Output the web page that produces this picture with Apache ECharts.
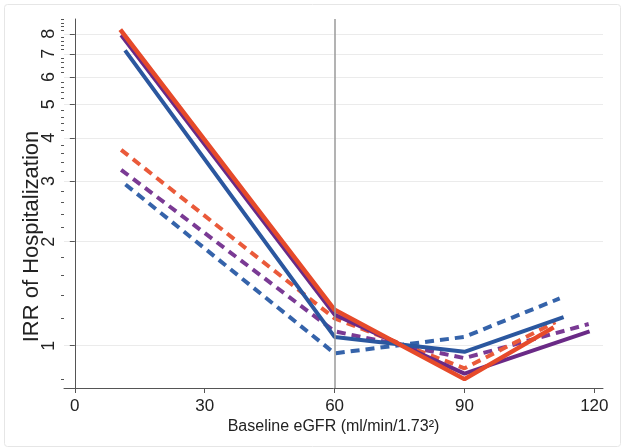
<!DOCTYPE html>
<html><head><meta charset="utf-8">
<script src="https://cdn.jsdelivr.net/npm/echarts@6/dist/echarts.min.js"></script>
<style>html,body{margin:0;padding:0;background:#fff}#c{width:621px;height:447px}</style>
</head><body><div id="c"></div>
<script>
// Tick labels
const xTicks = [0, 30, 60, 90, 120];
const yMajor = [1, 2, 3, 4, 5, 6, 7, 8];
const yMinor = [0.8, 1.2, 1.4, 1.6, 1.8, 2.2, 2.4, 2.6, 2.8, 3.2, 3.4, 3.6, 3.8,
  4.2, 4.4, 4.6, 4.8, 5.2, 5.4, 5.6, 5.8, 6.2, 6.4, 6.6, 6.8, 7.2, 7.4, 7.6, 7.8, 8.2, 8.4, 8.6, 8.8];
const refLineX = 60;

// Series values: [baseline eGFR, IRR]
const orangeSolid  = [[10.5, 8.23], [60, 1.27], [90, 0.80], [110.6, 1.13]];
const purpleSolid  = [[10.7, 7.93], [60, 1.23], [90, 0.83], [118.9, 1.10]];
const blueSolid    = [[11.6, 7.16], [60, 1.06], [90, 0.96], [112.9, 1.21]];
const orangeDashed = [[10.7, 3.69], [60, 1.20], [90, 0.86], [111.0, 1.17]];
const purpleDashed = [[10.7, 3.23], [60, 1.10], [90, 0.92], [118.7, 1.155]];
const blueDashed   = [[11.7, 2.93], [60, 0.95], [90, 1.06], [112.0, 1.37]];

const FONT = 'Liberation Sans, Arial, Helvetica, sans-serif';
const C_ORANGE = '#e64a2a', C_PURPLE = '#6a2a86', C_BLUE = '#2b579f';
const C_ORANGE_D = '#ea5a3a', C_PURPLE_D = '#7a3a94', C_BLUE_D = '#3563aa';

function line(name, data, color, dashed, width) {
  return {
    name, type: 'line', data, yAxisIndex: 0, showSymbol: false, symbol: 'none',
    silent: true, animation: false,
    lineStyle: { color, width, type: dashed ? [9, 6] : 'solid', cap: 'butt' }
  };
}

const chart = echarts.init(document.getElementById('c'), null, { renderer: 'canvas' });
const series = [
  line('blueDashed', blueDashed, C_BLUE_D, true, 4),
  line('purpleDashed', purpleDashed, C_PURPLE_D, true, 4),
  line('orangeDashed', orangeDashed, C_ORANGE_D, true, 4),
  line('purpleSolid', purpleSolid, C_PURPLE, false, 4),
  line('blueSolid', blueSolid, C_BLUE, false, 4),
  line('orangeSolid', orangeSolid, C_ORANGE, false, 4.5)
];
series[0].markLine = {
  silent: true, symbol: 'none', animation: false,
  label: { show: false },
  lineStyle: { color: '#9a9a9a', width: 1.5, type: 'solid' },
  data: [{ xAxis: refLineX }]
};
series[0].z = 1;

chart.setOption({
  animation: false,
  backgroundColor: '#ffffff',
  graphic: [{
    type: 'rect', left: 2, top: 2, silent: true,
    shape: { width: 616, height: 442, r: 3 },
    style: { fill: 'none', stroke: '#e6e6e6', lineWidth: 1 }
  }],
  grid: { left: 64, right: 18, top: 19, bottom: 59, containLabel: false },
  xAxis: {
    type: 'value', min: -2.5, max: 122,
    axisLine: { show: true, lineStyle: { color: '#555', width: 1 } },
    axisTick: { show: true, length: 5, customValues: xTicks, lineStyle: { color: '#555' } },
    axisLabel: { customValues: xTicks, fontSize: 17, color: '#222', margin: 10, fontFamily: FONT },
    splitLine: { show: false },
    name: 'Baseline eGFR (ml/min/1.73²)', nameLocation: 'middle', nameGap: 31,
    nameMoveOverlap: false,
    nameTextStyle: { fontSize: 16, color: '#222', fontFamily: FONT }
  },
  yAxis: [{
    type: 'log', logBase: 10, min: 0.754, max: 8.83, position: 'left',
    axisLine: { show: true, lineStyle: { color: '#555', width: 1 } },
    axisTick: { show: true, length: 5, customValues: yMajor, lineStyle: { color: '#555' } },
    axisLabel: { customValues: yMajor, rotate: 90, fontSize: 18, color: '#222', margin: 6, fontFamily: FONT },
    splitLine: { show: true, lineStyle: { color: '#ebebeb', width: 1 } },
    name: 'IRR of Hospitalization', nameLocation: 'middle', nameGap: 21,
    nameMoveOverlap: false,
    nameTextStyle: { fontSize: 22, color: '#222', fontFamily: FONT, padding: [0, 66, 0, 0] }
  }, {
    type: 'log', logBase: 10, min: 0.754, max: 8.83, position: 'left',
    axisLine: { show: false },
    axisTick: { show: true, length: 3, customValues: yMinor, lineStyle: { color: '#555' } },
    axisLabel: { show: false },
    splitLine: { show: false }
  }],
  series
});
</script></body></html>
